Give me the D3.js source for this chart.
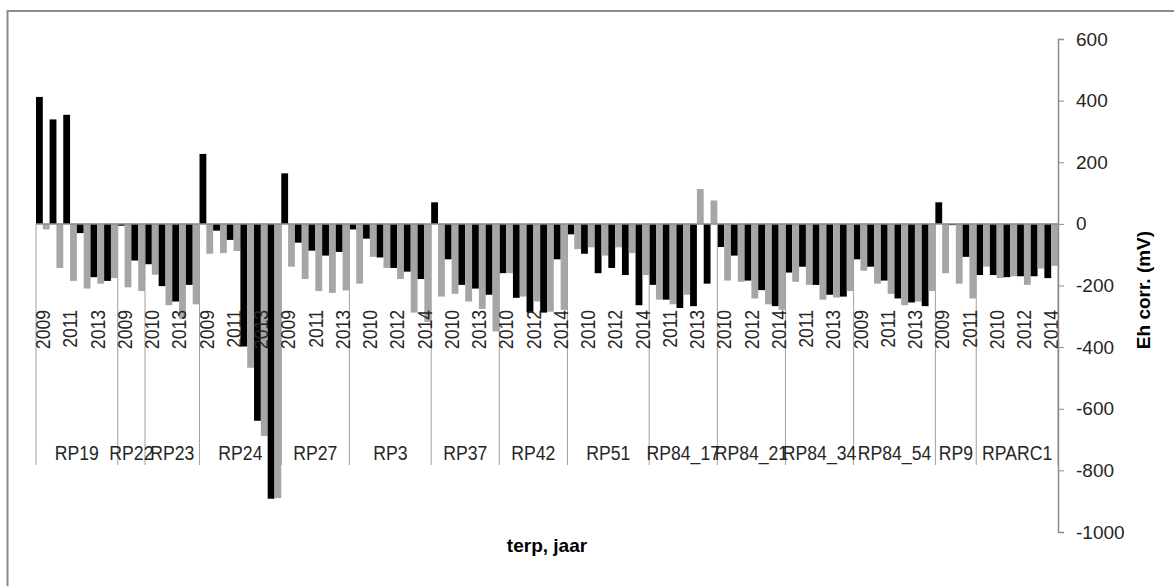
<!DOCTYPE html>
<html>
<head>
<meta charset="utf-8">
<script src="https://cdn.jsdelivr.net/npm/d3@7"></script>
<style>
  body { margin: 0; background: #fff; }
  text { font-family: "Liberation Sans", Arial, sans-serif; }
</style>
</head>
<body>
<div id="chart"></div>
<script>
// terp groups and the years measured in each
const terps = ["RP19", "RP22", "RP23", "RP24", "RP27", "RP3", "RP37", "RP42", "RP51",
  "RP84_17", "RP84_21", "RP84_34", "RP84_54", "RP9", "RPARC1"];

const terpYears = [
  [2009, 2010, 2011, 2012, 2013, 2014],
  [2009, 2010],
  [2010, 2011, 2013, 2014],
  [2009, 2010, 2011, 2012, 2013, 2014],
  [2009, 2010, 2011, 2012, 2013],
  [2009, 2010, 2011, 2012, 2013, 2014],
  [2009, 2010, 2011, 2013, 2014],
  [2010, 2011, 2012, 2013, 2014],
  [2009, 2010, 2011, 2012, 2013, 2014],
  [2010, 2011, 2012, 2013, 2014],
  [2010, 2011, 2012, 2013, 2014],
  [2010, 2011, 2012, 2013, 2014],
  [2009, 2010, 2011, 2012, 2013, 2014],
  [2009, 2010, 2011],
  [2009, 2010, 2011, 2012, 2013, 2014]
];

// Eh corr. (mV), black series, in the same order as terpYears
const ehBlack = [
  412, 339, 354, -30, -173, -185,
  -6, -119,
  -131, -202, -252, -198,
  227, -22, -52, -398, -639, -892,
  164, -61, -87, -103, -91,
  -18, -48, -109, -143, -155, -179,
  70, -115, -198, -210, -230,
  -160, -240, -288, -288, -115,
  -34, -97, -160, -143, -166, -264,
  -198, -246, -273, -267, -194,
  -75, -103, -184, -215, -267,
  -158, -139, -198, -230, -236,
  -115, -139, -184, -242, -255, -267,
  70, -4, -107,
  -166, -166, -173, -170, -170, -176
];

// Eh corr. (mV), grey series
const ehGrey = [
  -18, -143, -185, -210, -194, -176,
  -206, -218,
  -165, -264, -309, -261,
  -97, -95, -88, -467, -688, -890,
  -139, -179, -218, -224, -216,
  -194, -107, -143, -179, -288, -318,
  -236, -227, -252, -276, -349,
  -160, -236, -252, -285, -279,
  -82, -76, -103, -76, -95, -166,
  -246, -261, -230, 113, 76,
  -184, -188, -242, -261, -279,
  -188, -198, -246, -239, -218,
  -152, -194, -227, -264, -252, -218,
  -160, -194, -242,
  -139, -176, -170, -198, -145, -136
];

const yTicks = [600, 400, 200, 0, -200, -400, -600, -800, -1000];

const width = 1174, height = 586;
const plot = { left: 36, right: 1058, top: 39, bottom: 532 };

// flatten into one row per category (terp, year)
const rows = [];
terps.forEach((t, ti) => {
  terpYears[ti].forEach(yr => {
    const i = rows.length;
    rows.push({ key: t + "_" + yr, terp: t, year: yr, idx: i, black: ehBlack[i], grey: ehGrey[i] });
  });
});

const svg = d3.select("#chart")
  .append("svg")
    .attr("width", width)
    .attr("height", height);

// outer chart border (right and bottom edges fall outside the picture)
svg.append("rect")
  .attr("x", 7.5).attr("y", 11)
  .attr("width", 1200).attr("height", 600)
  .attr("fill", "none")
  .attr("stroke", "#8c8c8c")
  .attr("stroke-width", 2);

const x = d3.scaleBand()
  .domain(rows.map(d => d.key))
  .range([plot.left, plot.right])
  .padding(0);

const xSub = d3.scaleBand()
  .domain(["black", "grey"])
  .range([0, x.bandwidth()])
  .padding(0);

const y = d3.scaleLinear()
  .domain([-1000, 600])
  .range([plot.bottom, plot.top]);

const color = d3.scaleOrdinal()
  .domain(["black", "grey"])
  .range(["#000000", "#a6a6a6"]);

// bars
svg.append("g")
  .selectAll("g")
  .data(rows)
  .join("g")
    .attr("transform", d => `translate(${x(d.key)},0)`)
  .selectAll("rect")
  .data(d => ["black", "grey"].map(k => ({ key: k, value: d[k] })))
  .join("rect")
    .attr("x", d => xSub(d.key))
    .attr("y", d => y(Math.max(0, d.value)))
    .attr("width", xSub.bandwidth())
    .attr("height", d => Math.abs(y(d.value) - y(0)))
    .attr("fill", d => color(d.key));

// category axis line at zero
svg.append("line")
  .attr("x1", plot.left).attr("x2", plot.right)
  .attr("y1", y(0)).attr("y2", y(0))
  .attr("stroke", "#8c8c8c")
  .attr("stroke-width", 1.5);

// group separators
const groupEdges = [];
terps.forEach((t, ti) => {
  const first = rows.find(r => r.terp === t);
  groupEdges.push(x(first.key));
});
groupEdges.push(plot.right);

svg.append("g")
  .selectAll("line")
  .data(groupEdges)
  .join("line")
    .attr("x1", d => d).attr("x2", d => d)
    .attr("y1", y(0)).attr("y2", 465)
    .attr("stroke", "#a0a0a0")
    .attr("stroke-width", 1);

// year labels (every second category, like the original)
svg.append("g")
  .selectAll("text")
  .data(rows.filter(d => d.idx % 2 === 0))
  .join("text")
    .attr("transform", d => `translate(${x(d.key) + x.bandwidth() / 2},310) rotate(-90) scale(0.88,1)`)
    .attr("text-anchor", "end")
    .attr("dy", "0.36em")
    .style("font-size", "20px")
    .style("fill", "#262626")
    .text(d => d.year);

// terp labels
svg.append("g")
  .selectAll("text")
  .data(terps)
  .join("text")
    .attr("transform", (d, i) => `translate(${(groupEdges[i] + groupEdges[i + 1]) / 2},460) scale(0.84,1)`)
    .attr("text-anchor", "middle")
    .style("font-size", "21px")
    .style("fill", "#262626")
    .text(d => d);

// right value axis
const yAxis = svg.append("g")
  .attr("transform", `translate(${plot.right},0)`)
  .call(d3.axisRight(y)
    .tickValues(yTicks)
    .tickFormat(d => String(d))
    .tickSize(6).tickSizeOuter(6).tickPadding(12));

yAxis.select(".domain").attr("stroke", "#8c8c8c").attr("stroke-width", 1.5);
yAxis.selectAll(".tick line").attr("stroke", "#8c8c8c");
yAxis.selectAll(".tick text")
  .style("font-family", "'Liberation Sans', Arial, sans-serif")
  .style("font-size", "19px")
  .style("fill", "#262626");

// axis titles
svg.append("text")
  .attr("x", (plot.left + plot.right) / 2)
  .attr("y", 552)
  .attr("text-anchor", "middle")
  .style("font-size", "19px")
  .style("font-weight", "bold")
  .text("terp, jaar");

svg.append("text")
  .attr("transform", "translate(1150,290) rotate(-90)")
  .attr("text-anchor", "middle")
  .style("font-size", "19px")
  .style("font-weight", "bold")
  .text("Eh corr. (mV)");
</script>
</body>
</html>
